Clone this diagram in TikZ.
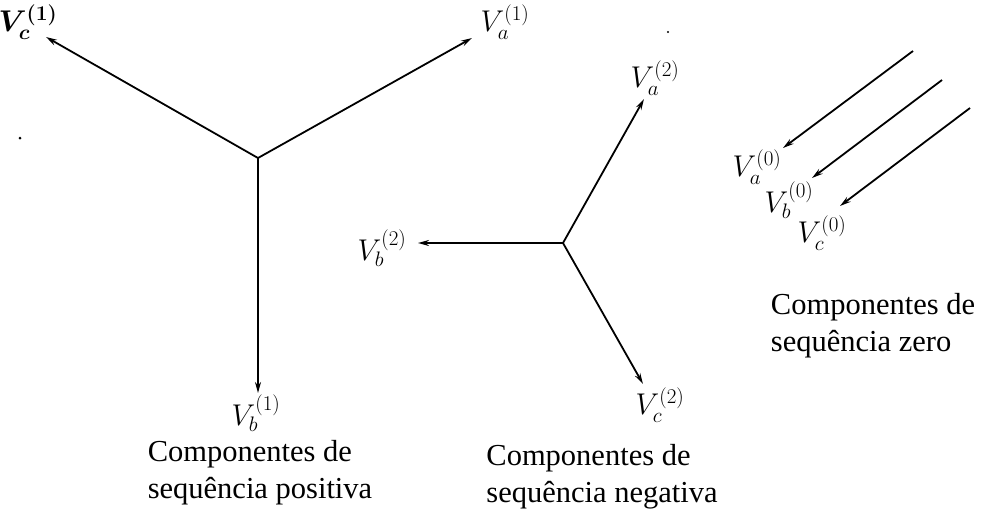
\documentclass[tikz,border=0pt]{standalone}
\usepackage{fix-cm}
\usepackage{bm}
\usepackage{fontspec}
\setmainfont{Liberation Serif}
\usetikzlibrary{arrows.meta}
\tikzset{
  vec/.style={line width=1.8pt,-{Stealth[length=11pt,width=6pt]}},
  lbl/.style={inner sep=0pt,font=\fontsize{30}{34}\selectfont},
  captxt/.style={inner sep=0pt,align=left,font=\fontsize{30.5}{37}\selectfont}}
\begin{document}
\begin{tikzpicture}[x=1pt,y=-1pt]
\useasboundingbox (0,0) rectangle (983,511);
% positive sequence
\coordinate (o1) at (258,158);
\coordinate (c1) at (46,37);
\coordinate (a1) at (472,38);
\coordinate (b1) at (258,393);
\draw[vec] (o1) -- (c1);
\draw[vec] (o1) -- (a1);
\draw[vec] (o1) -- (b1);
\node[lbl] (lc1) at (28,22) {$\bm{V_c^{(1)}}$};
\node[lbl] (la1) at (505,22) {$V_a^{(1)}$};
\node[lbl] (lb1) at (256,413) {$V_b^{(1)}$};
\node[captxt] (cp) at (260,473) {Componentes de\\sequência positiva};
% negative sequence
\coordinate (o2) at (563,243);
\coordinate (a2) at (644,99);
\coordinate (b2) at (418,243);
\coordinate (c2) at (643,384);
\draw[vec] (o2) -- (a2);
\draw[vec] (o2) -- (b2);
\draw[vec] (o2) -- (c2);
\node[lbl] (la2) at (655,78) {$V_a^{(2)}$};
\node[lbl] (lb2) at (382,248) {$V_b^{(2)}$};
\node[lbl] (lc2) at (660,405) {$V_c^{(2)}$};
\node[captxt] (cn) at (602,477) {Componentes de\\sequência negativa};
% zero sequence
\coordinate (sa) at (913,51);
\coordinate (ta) at (783,148);
\coordinate (sb) at (942,80);
\coordinate (tb) at (812,178);
\coordinate (sc) at (970,108);
\coordinate (tc) at (840,206);
\draw[vec] (sa) -- (ta);
\draw[vec] (sb) -- (tb);
\draw[vec] (sc) -- (tc);
\node[lbl] (la0) at (757,167) {$V_a^{(0)}$};
\node[lbl] (lb0) at (789,200) {$V_b^{(0)}$};
\node[lbl] (lc0) at (822,233) {$V_c^{(0)}$};
\node[captxt] (cz) at (873,326) {Componentes de\\sequência zero};
% specks
\fill (20,138) circle (1.5);
\fill (668,32) circle (1.2);
\end{tikzpicture}
\end{document}
